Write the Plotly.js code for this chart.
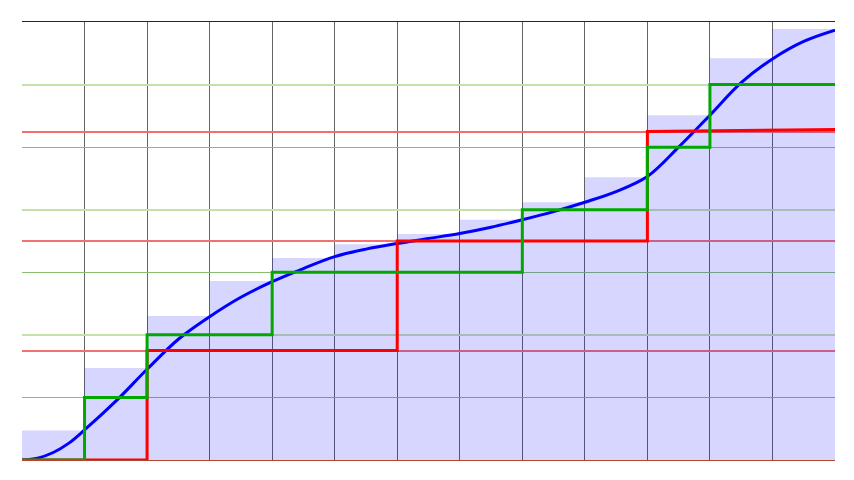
<!DOCTYPE html>
<html>
<head>
<meta charset="utf-8">
<script src="https://cdn.plot.ly/plotly-3.0.1.min.js"></script>
<style>html,body{margin:0;padding:0;background:#fff;}#chart{width:854px;height:480px;}</style>
</head>
<body>
<div id="chart"></div>
<script>
// Column edges and column heights (one light-blue column per unit)
const colEdges = [0,1,2,3,4,5,6,7,8,9,10,11,12,13];
const colHeights = [0.47,1.47,2.30,2.86,3.23,3.45,3.61,3.84,4.12,4.52,5.51,6.42,6.89];

// Smooth blue curve
const curveX = [0,0.25,0.5,0.75,1,1.5,2,2.5,3,3.5,4,4.5,5,5.5,6,6.5,7,7.5,8,8.5,9,9.5,10,10.5,11,11.5,12,12.5,13];
const curveY = [0,0.03,0.12,0.27,0.48,0.94,1.45,1.93,2.29,2.60,2.85,3.06,3.25,3.37,3.46,3.54,3.62,3.72,3.84,3.97,4.12,4.29,4.53,5.00,5.51,6.03,6.41,6.69,6.87];

// Red step
const redX = [0,2,2,6,6,10,10,13];
const redY = [0,0,1.75,1.75,3.5,3.5,5.25,5.28];

// Green step
const greenX = [0,1,2,4,8,10,11,13];
const greenY = [0,1,2,3,4,5,6,6];

// Gridline levels
const redLevels = [1.75,3.5,5.25];
const lightGreenLevels = [2,4,6];
const darkGreenLevels = [1,3,5];

const colStepY = colHeights.concat([colHeights[colHeights.length-1]]);

const traces = [
  {type:'scatter', mode:'lines', x:colEdges, y:colStepY, line:{width:0, shape:'hv'},
   fill:'tozeroy', fillcolor:'rgba(0,0,255,0.16)', hoverinfo:'skip'},
  {type:'scatter', mode:'lines', x:curveX, y:curveY, line:{color:'#0000ff', width:3, shape:'spline', smoothing:1}},
  {type:'scatter', mode:'lines', x:redX, y:redY, line:{color:'#ff0000', width:3}},
  {type:'scatter', mode:'lines', x:greenX, y:greenY, line:{color:'#00a800', width:3, shape:'hv'}},
  {type:'scatter', mode:'markers', x:[0], y:[0], xaxis:'x2', yaxis:'y2', marker:{opacity:0}, hoverinfo:'skip'},
  {type:'scatter', mode:'markers', x:[0], y:[0], xaxis:'x', yaxis:'y3', marker:{opacity:0}, hoverinfo:'skip'}
];

const layout = {
  width:854, height:480,
  margin:{l:22, r:19, t:22, b:20},
  paper_bgcolor:'#fff', plot_bgcolor:'#fff',
  showlegend:false,
  xaxis:{range:[0,13], dtick:1, tick0:0, showgrid:true, gridcolor:'#646464', gridwidth:1,
         showticklabels:false, ticks:'', zeroline:false, showline:true, linecolor:'#b5452f', linewidth:1.3},
  xaxis2:{overlaying:'x', side:'top', anchor:'y2', range:[0,13], showgrid:false, showticklabels:false, ticks:'',
          zeroline:false, showline:true, linecolor:'#4a1a0a', linewidth:1.5},
  yaxis:{range:[0,7], tickmode:'array', tickvals:redLevels, showgrid:true, gridcolor:'#f47070', gridwidth:2,
         showticklabels:false, ticks:'', zeroline:false, showline:false},
  yaxis2:{overlaying:'y', anchor:'x2', range:[0,7], tickmode:'array', tickvals:lightGreenLevels, showgrid:true,
          gridcolor:'#c4e2a8', gridwidth:2, showticklabels:false, ticks:'', zeroline:false, showline:false},
  yaxis3:{overlaying:'y', anchor:'x', range:[0,7], tickmode:'array', tickvals:darkGreenLevels, showgrid:true,
          gridcolor:'#88c070', gridwidth:1, showticklabels:false, ticks:'', zeroline:false, showline:false}
};

Plotly.newPlot('chart', traces, layout, {displayModeBar:false, staticPlot:true});
</script>
</body>
</html>
